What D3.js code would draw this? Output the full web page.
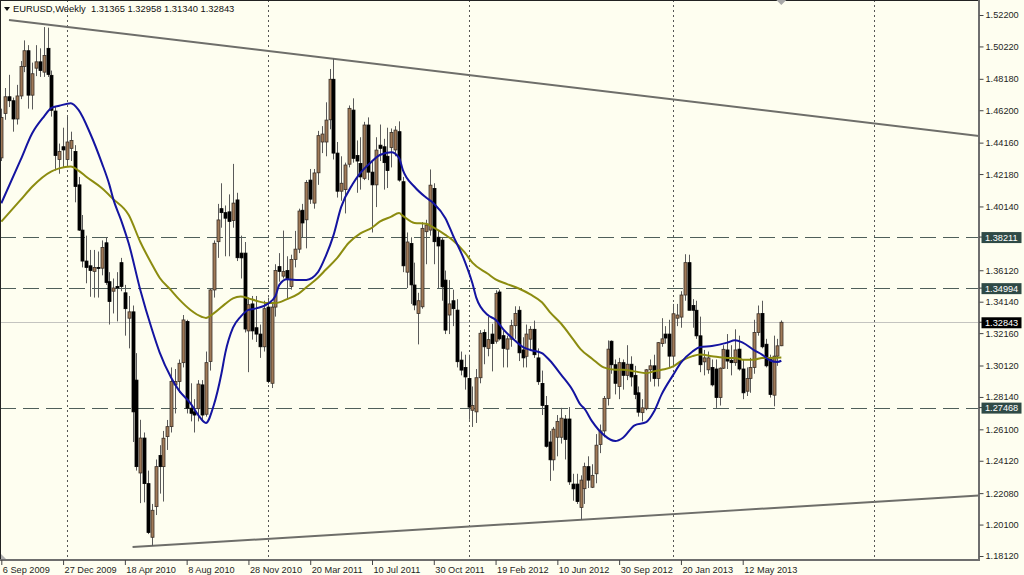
<!DOCTYPE html>
<html><head><meta charset="utf-8">
<script src="https://cdn.jsdelivr.net/npm/d3@7"></script>
<style>body{margin:0;background:#fefef0;} svg{display:block;font-family:"Liberation Sans",Arial,sans-serif;}</style>
</head><body>
<svg id="chart" width="1024" height="575"></svg>
<script>
// ---------------- DATA ----------------
const symbolTitle = "EURUSD,Weekly";
const lastQuote = ["1.31365", "1.32958", "1.31340", "1.32843"];
const firstWeek = "2009-09-06";

const opens = [
1.4320,1.4600,1.4705,1.4680,1.4565,1.4710,1.4895,1.4995,1.4715,1.4885,
1.4925,1.4860,1.5010,1.4840,1.4615,1.4310,1.4390,1.4310,1.4380,1.4360,
1.4150,1.3865,1.3670,1.3640,1.3605,1.3630,1.3625,1.3785,1.3540,1.3480,
1.3510,1.3660,1.3470,1.3310,1.3350,1.2920,1.2335,1.2555,1.2268,1.1930,
1.2123,1.2445,1.2375,1.2564,1.2627,1.2890,1.2911,1.3030,1.3289,1.2743,
1.2720,1.2740,1.2890,1.2705,1.3037,1.3488,1.3792,1.4000,1.3975,1.3980,
1.3925,1.4055,1.3720,1.3720,1.3230,1.3400,1.3250,1.3210,1.3130,1.3380,
1.2900,1.3380,1.3635,1.3575,1.3610,1.3510,1.3680,1.3745,1.3990,1.3930,
1.4180,1.4035,1.4226,1.4420,1.4420,1.4560,1.4815,1.4350,1.4110,1.4120,
1.4280,1.4621,1.4335,1.4285,1.4191,1.4527,1.4230,1.4150,1.4400,1.4390,
1.4330,1.4385,1.4370,1.4485,1.4170,1.3600,1.3780,1.3519,1.3340,1.3382,
1.3855,1.3865,1.4127,1.3820,1.3802,1.3550,1.3330,1.3420,1.3361,1.3046,
1.3000,1.2930,1.2730,1.2720,1.2935,1.3220,1.3120,1.3210,1.3165,1.3475,
1.3200,1.3115,1.3178,1.3263,1.3360,1.3110,1.3070,1.3178,1.3240,1.3060,
1.2899,1.2760,1.2530,1.2418,1.2560,1.2560,1.2675,1.2675,1.2265,1.2265,
1.2118,1.2236,1.2375,1.2245,1.2330,1.2514,1.2600,1.2805,1.3165,1.3017,
1.2880,1.3030,1.2950,1.3020,1.2950,1.2840,1.2715,1.2740,1.2985,1.3010,
1.2930,1.3150,1.3210,1.3210,1.3071,1.3310,1.3317,1.3456,1.3660,1.3390,
1.3360,1.3199,1.3035,1.2985,1.3000,1.2990,1.2810,1.2995,1.3110,1.3045,
1.3030,1.3115,1.2990,1.2850,1.2930,1.3000,1.3220,1.3340,1.3146,1.3049,
1.2825,1.3071,1.31365];

const highs = [
1.4630,1.4760,1.4843,1.4700,1.4780,1.4930,1.5060,1.5030,1.4920,1.5030,
1.5010,1.5144,1.5140,1.4870,1.4640,1.4410,1.4510,1.4580,1.4485,1.4400,
1.4200,1.3960,1.3830,1.3740,1.3740,1.3730,1.3800,1.3820,1.3600,1.3560,
1.3600,1.3690,1.3520,1.3450,1.3390,1.3090,1.2670,1.2590,1.2350,1.2140,
1.2420,1.2510,1.2600,1.2669,1.3000,1.2990,1.3050,1.3330,1.3300,1.2900,
1.2800,1.2920,1.2920,1.3100,1.3500,1.3800,1.4030,1.4160,1.4020,1.4090,
1.4282,1.4100,1.3830,1.3790,1.3440,1.3450,1.3450,1.3270,1.3420,1.3440,
1.3400,1.3650,1.3720,1.3862,1.3700,1.3710,1.3860,1.4000,1.4030,1.4180,
1.4250,1.4250,1.4490,1.4520,1.4670,1.4880,1.4945,1.4420,1.4330,1.4290,
1.4650,1.4695,1.4430,1.4450,1.4547,1.4575,1.4300,1.4450,1.4530,1.4440,
1.4510,1.4505,1.4520,1.4550,1.4200,1.3850,1.3820,1.3660,1.3470,1.3915,
1.3930,1.4247,1.4160,1.3865,1.3820,1.3610,1.3550,1.3490,1.3430,1.3100,
1.3080,1.3080,1.2880,1.2990,1.3235,1.3240,1.3320,1.3275,1.3486,1.3490,
1.3230,1.3200,1.3300,1.3385,1.3385,1.3190,1.3270,1.3260,1.3295,1.3120,
1.2980,1.2820,1.2600,1.2625,1.2700,1.2745,1.2700,1.2750,1.2330,1.2330,
1.2320,1.2400,1.2440,1.2390,1.2580,1.2640,1.2820,1.3170,1.3170,1.3050,
1.3060,1.3050,1.3140,1.3070,1.3010,1.2880,1.2800,1.2990,1.3050,1.3080,
1.3160,1.3310,1.3260,1.3300,1.3400,1.3400,1.3480,1.3713,1.3710,1.3430,
1.3420,1.3320,1.3110,1.3100,1.3050,1.3050,1.3000,1.3140,1.3210,1.3140,
1.3240,1.3200,1.3050,1.3000,1.3060,1.3300,1.3390,1.3420,1.3180,1.3080,
1.3200,1.3180,1.32958];

const lows = [
1.4300,1.4560,1.4640,1.4485,1.4530,1.4690,1.4860,1.4630,1.4625,1.4835,
1.4830,1.4830,1.4830,1.4580,1.4240,1.4220,1.4260,1.4265,1.4300,1.4040,
1.3860,1.3630,1.3530,1.3445,1.3440,1.3440,1.3580,1.3520,1.3270,1.3340,
1.3290,1.3480,1.3200,1.3120,1.2530,1.2350,1.2145,1.2150,1.1950,1.1875,
1.2070,1.2205,1.2155,1.2480,1.2590,1.2710,1.2840,1.3000,1.2710,1.2660,
1.2590,1.2660,1.2660,1.2690,1.2980,1.3440,1.3690,1.3880,1.3700,1.3700,
1.3880,1.3670,1.3560,1.3220,1.2970,1.3175,1.3160,1.3060,1.3100,1.2900,
1.2870,1.3320,1.3540,1.3560,1.3430,1.3490,1.3630,1.3720,1.3820,1.3750,
1.4030,1.4000,1.4150,1.4350,1.4330,1.4500,1.4310,1.4070,1.4050,1.3970,
1.4260,1.4290,1.4100,1.4120,1.4180,1.4180,1.3850,1.4010,1.4300,1.4120,
1.4130,1.4260,1.4330,1.4170,1.3600,1.3500,1.3400,1.3360,1.3145,1.3370,
1.3650,1.3830,1.3650,1.3500,1.3420,1.3210,1.3210,1.3260,1.3000,1.2950,
1.2860,1.2670,1.2625,1.2650,1.2900,1.3020,1.3070,1.2975,1.3150,1.3170,
1.3000,1.3000,1.3130,1.3180,1.3040,1.3000,1.3000,1.3110,1.3060,1.2890,
1.2700,1.2495,1.2285,1.2350,1.2440,1.2520,1.2420,1.2260,1.2160,1.2140,
1.2040,1.2140,1.2240,1.2240,1.2270,1.2460,1.2560,1.2760,1.2960,1.2830,
1.2800,1.2860,1.2920,1.2880,1.2800,1.2690,1.2660,1.2730,1.2910,1.2880,
1.2880,1.3130,1.3150,1.3000,1.3000,1.3260,1.3250,1.3420,1.3360,1.3250,
1.3180,1.2970,1.2950,1.2960,1.2880,1.2745,1.2760,1.2990,1.2990,1.2950,
1.3010,1.2980,1.2800,1.2820,1.2840,1.2960,1.3200,1.3120,1.3000,1.2810,
1.2755,1.3010,1.31340];

const closes = [
1.4575,1.4705,1.4680,1.4565,1.4710,1.4895,1.4995,1.4715,1.4850,1.4925,
1.4870,1.4965,1.4845,1.4620,1.4335,1.4360,1.4370,1.4420,1.4430,1.4140,
1.3865,1.3670,1.3630,1.3610,1.3630,1.3625,1.3755,1.3535,1.3415,1.3500,
1.3500,1.3510,1.3370,1.3350,1.2720,1.2375,1.2555,1.2268,1.1960,1.2100,
1.2375,1.2375,1.2554,1.2627,1.2911,1.2911,1.3026,1.3299,1.2743,1.2711,
1.2700,1.2895,1.2700,1.3030,1.3488,1.3782,1.3929,1.3975,1.3940,1.3920,
1.4035,1.3691,1.3690,1.3242,1.3395,1.3230,1.3210,1.3130,1.3370,1.2911,
1.3380,1.3610,1.3605,1.3605,1.3560,1.3680,1.3745,1.3985,1.3910,1.4165,
1.4060,1.4225,1.4460,1.4470,1.4558,1.4815,1.4350,1.4110,1.4160,1.4275,
1.4632,1.4317,1.4300,1.4200,1.4527,1.4230,1.4150,1.4369,1.4380,1.4290,
1.4240,1.4480,1.4495,1.4180,1.3640,1.3790,1.3520,1.3393,1.3420,1.3876,
1.3897,1.4148,1.3792,1.3765,1.3508,1.3235,1.3400,1.3370,1.3036,1.2983,
1.2940,1.2750,1.2760,1.2935,1.3215,1.3130,1.3175,1.3150,1.3465,1.3180,
1.3120,1.3180,1.3263,1.3340,1.3092,1.3060,1.3210,1.3240,1.3080,1.2910,
1.2760,1.2503,1.2418,1.2611,1.2660,1.2680,1.2546,1.2279,1.2235,1.2155,
1.2290,1.2375,1.2290,1.2320,1.2510,1.2600,1.2805,1.3115,1.3017,1.2900,
1.3030,1.2950,1.3020,1.2940,1.2830,1.2718,1.2745,1.2985,1.3010,1.2930,
1.3156,1.3180,1.3185,1.3071,1.3338,1.3330,1.3456,1.3660,1.3360,1.3360,
1.3199,1.3017,1.3060,1.3060,1.2890,1.2810,1.2995,1.3114,1.3040,1.3030,
1.3110,1.2990,1.2840,1.2930,1.3000,1.3220,1.3338,1.3130,1.3010,1.2830,
1.3071,1.3136,1.32843];

// Moving averages (bar index, price)
const blueIdx = [0,5,8,11,13,15,18,20,23,26,28,29,31,33,36,39,41,44,46,49,51,53,55,57,58,60,62,64,66,69,71,72,74,77,79,82,84,86,88,91,93,96,98,101,103,104,107,110,112,115,117,120,122,123,126,128,130,133,135,137,140,142,145,148,150,151,153,156,159,161,164,167,169,171,174,176,179,181,184,188,190,192,195,197,199,201,202];
const blueMA = [1.4034,1.4307,1.4475,1.4579,1.4635,1.4648,1.4664,1.4622,1.4475,1.4290,1.4150,1.4060,1.3929,1.3780,1.3488,1.3240,1.3095,1.2935,1.2855,1.2774,1.2700,1.2650,1.2760,1.2960,1.3090,1.3250,1.3320,1.3362,1.3372,1.3400,1.3450,1.3520,1.3555,1.3550,1.3551,1.3600,1.3700,1.3830,1.4010,1.4155,1.4225,1.4298,1.4338,1.4355,1.4320,1.4243,1.4138,1.4070,1.4033,1.3940,1.3830,1.3670,1.3530,1.3440,1.3330,1.3300,1.3240,1.3170,1.3130,1.3110,1.3090,1.3045,1.2953,1.2855,1.2765,1.2740,1.2660,1.2575,1.2536,1.2557,1.2635,1.2655,1.2720,1.2830,1.2953,1.3030,1.3100,1.3128,1.3135,1.3156,1.3171,1.3156,1.3108,1.3081,1.3045,1.3034,1.3042];
const oliveIdx = [0,5,8,13,15,18,20,22,26,29,33,36,39,41,44,46,49,52,53,55,58,60,62,64,66,69,71,74,77,79,82,84,87,90,93,96,98,101,103,104,107,110,112,115,117,120,122,126,128,131,134,137,140,142,145,148,150,153,156,159,161,164,167,169,171,174,176,179,181,184,188,190,192,195,197,199,202];
const oliveMA = [1.3918,1.4055,1.4138,1.4235,1.4254,1.4265,1.4240,1.4201,1.4130,1.4060,1.3960,1.3790,1.3650,1.3565,1.3485,1.3430,1.3362,1.3318,1.3312,1.3340,1.3400,1.3435,1.3446,1.3435,1.3420,1.3405,1.3405,1.3430,1.3465,1.3505,1.3565,1.3615,1.3690,1.3785,1.3844,1.3880,1.3918,1.3950,1.3972,1.3955,1.3910,1.3905,1.3880,1.3835,1.3800,1.3725,1.3660,1.3590,1.3555,1.3525,1.3497,1.3460,1.3410,1.3350,1.3275,1.3180,1.3115,1.3055,1.3000,1.2985,1.2985,1.2975,1.2964,1.2975,1.2985,1.3006,1.3039,1.3071,1.3081,1.3071,1.3060,1.3060,1.3049,1.3049,1.3060,1.3060,1.3062];

const dateLabels = ["6 Sep 2009","27 Dec 2009","18 Apr 2010","8 Aug 2010","28 Nov 2010","20 Mar 2011","10 Jul 2011","30 Oct 2011","19 Feb 2012","10 Jun 2012","30 Sep 2012","20 Jan 2013","12 May 2013"];
const yearGridWeeks = ["2010-01-03","2011-01-02","2012-01-01","2013-01-06","2014-01-05"];
const priceTicks = [1.52200,1.50220,1.48180,1.46200,1.44160,1.42180,1.40140,1.36120,1.34140,1.32160,1.30120,1.28140,1.26100,1.24120,1.22080,1.20100,1.18120];
const levelLines = [1.38211, 1.34994, 1.27468];
const bidPrice = 1.32843;
const upperTrend = [["2009-09-20", 1.5188], ["2011-05-01", 1.4944]];
const lowerTrend = [["2010-05-02", 1.1868], ["2012-07-22", 1.2040]];

// ---------------- LAYOUT ----------------
const W = 1024, H = 575;
const plotR = 979, plotB = 560;
const barStep = 3.8615;
const svg = d3.select("#chart");
const parseDay = d3.utcParse("%Y-%m-%d");
const parseLabel = d3.utcParse("%d %b %Y");
const t0 = parseDay(firstWeek);
const n = closes.length;
const dates = closes.map((_, i) => d3.utcWeek.offset(t0, i));

const x = d3.scaleUtc().domain([dates[0], dates[n - 1]]).range([1.3, 1.3 + (n - 1) * barStep]);
const y = d3.scaleLinear().domain([1.18120, 1.52200]).range([556, 15]);

svg.append("rect").attr("width", W).attr("height", H).attr("fill", "#fefef0");

const defs = svg.append("defs");
defs.append("clipPath").attr("id", "plotClip").append("rect")
  .attr("x", 0).attr("y", 0).attr("width", plotR).attr("height", plotB);
const plot = svg.append("g").attr("clip-path", "url(#plotClip)");

// year grid (dotted)
plot.selectAll("line.vgrid").data(yearGridWeeks.map(parseDay)).join("line")
  .attr("class", "vgrid")
  .attr("x1", d => Math.round(x(d)) + 0.5).attr("x2", d => Math.round(x(d)) + 0.5)
  .attr("y1", 0).attr("y2", plotB)
  .attr("stroke", "#555").attr("stroke-width", 1).attr("stroke-dasharray", "2,3");

// bid line
plot.append("line").attr("x1", 0).attr("x2", plotR)
  .attr("y1", Math.round(y(bidPrice)) + 0.5).attr("y2", Math.round(y(bidPrice)) + 0.5)
  .attr("stroke", "#c4c4c0").attr("stroke-width", 1);

// level lines (dashed)
plot.selectAll("line.level").data(levelLines).join("line")
  .attr("class", "level")
  .attr("x1", 0).attr("x2", plotR)
  .attr("y1", d => Math.round(y(d)) + 0.5).attr("y2", d => Math.round(y(d)) + 0.5)
  .attr("stroke", "#4f5f5a").attr("stroke-width", 1.2).attr("stroke-dasharray", "16,7");

// trend lines (ray to the right edge)
function ray(tr) {
  const x1 = x(parseDay(tr[0][0])), y1 = y(tr[0][1]);
  const x2 = x(parseDay(tr[1][0])), y2 = y(tr[1][1]);
  const k = (y2 - y1) / (x2 - x1);
  return [x1, y1, plotR + 5, y1 + k * (plotR + 5 - x1)];
}
[upperTrend, lowerTrend].forEach(tr => {
  const r = ray(tr);
  plot.append("line").attr("x1", r[0]).attr("y1", r[1]).attr("x2", r[2]).attr("y2", r[3])
    .attr("stroke", "#6e6e6a").attr("stroke-width", 2);
});

// candles
const bars = d3.range(n);
const cg = plot.append("g");
cg.selectAll("line.wick").data(bars).join("line")
  .attr("class", "wick")
  .attr("x1", i => Math.round(x(dates[i])) + 0.5).attr("x2", i => Math.round(x(dates[i])) + 0.5)
  .attr("y1", i => y(highs[i])).attr("y2", i => y(lows[i]))
  .attr("stroke", "#5a5a5a").attr("stroke-width", 1);
cg.selectAll("rect.body").data(bars).join("rect")
  .attr("class", "body")
  .attr("x", i => Math.round(x(dates[i])) - 1)
  .attr("y", i => y(Math.max(opens[i], closes[i])))
  .attr("width", 3)
  .attr("height", i => Math.max(1, Math.abs(y(opens[i]) - y(closes[i]))))
  .attr("fill", i => closes[i] >= opens[i] ? "#a07a58" : "#000")
  .attr("stroke", i => closes[i] >= opens[i] ? "#3a3028" : "#000")
  .attr("stroke-width", 0.8);

// moving averages
const maLine = d3.line().x(d => x(dates[d[0]])).y(d => y(d[1])).curve(d3.curveMonotoneX);
plot.append("path").datum(oliveIdx.map((d, i) => [d, oliveMA[i]]))
  .attr("d", maLine).attr("fill", "none").attr("stroke", "#8c8c10").attr("stroke-width", 2);
plot.append("path").datum(blueIdx.map((d, i) => [d, blueMA[i]]))
  .attr("d", maLine).attr("fill", "none").attr("stroke", "#1414a0").attr("stroke-width", 2);

// frame
svg.append("line").attr("x1", 0.5).attr("x2", 0.5).attr("y1", 0).attr("y2", plotB).attr("stroke", "#222");
svg.append("line").attr("x1", 0).attr("x2", plotR).attr("y1", 0.5).attr("y2", 0.5).attr("stroke", "#222");
svg.append("line").attr("x1", plotR).attr("x2", plotR).attr("y1", 0).attr("y2", plotB + 1).attr("stroke", "#6e6e6e").attr("stroke-width", 2);
svg.append("line").attr("x1", 0).attr("x2", plotR + 1).attr("y1", plotB).attr("y2", plotB).attr("stroke", "#6e6e6e").attr("stroke-width", 2);

// price axis
const yAxis = d3.axisRight(y).tickValues(priceTicks).tickSize(4).tickPadding(2).tickFormat(d3.format(".5f"));
const ya = svg.append("g").attr("transform", `translate(${plotR + 0.5},0)`).call(yAxis);
ya.select(".domain").remove();
ya.selectAll("line").attr("stroke", "#444");
ya.selectAll("text").attr("font-size", "9.2px").attr("fill", "#1e1e1e").attr("font-family", "Liberation Sans, Arial, sans-serif");

// highlighted price labels
function priceBox(v, fill) {
  const yy = y(v);
  svg.append("line").attr("x1", plotR).attr("x2", plotR + 3).attr("y1", yy).attr("y2", yy).attr("stroke", "#444");
  svg.append("rect").attr("x", plotR + 2.5).attr("y", yy - 5).attr("width", 40).attr("height", 11).attr("fill", fill);
  svg.append("text").attr("x", plotR + 6).attr("y", yy + 3.5).attr("fill", "#fff")
    .attr("font-size", "9.2px").text(d3.format(".5f")(v));
}
levelLines.forEach(v => priceBox(v, "#2f4a46"));
priceBox(bidPrice, "#000");

// date axis
const labelDates = dateLabels.map(parseLabel);
const xAxis = d3.axisBottom(x).tickValues(labelDates).tickSize(5).tickPadding(2)
  .tickFormat((d, i) => dateLabels[i]);
const xa = svg.append("g").attr("transform", `translate(0,${plotB})`).call(xAxis);
xa.select(".domain").remove();
xa.selectAll("line").attr("stroke", "#444");
xa.selectAll("text").attr("text-anchor", "start").attr("dx", "1").attr("dy", "0.6em")
  .attr("font-size", "9.2px").attr("fill", "#1e1e1e").attr("font-family", "Liberation Sans, Arial, sans-serif");

// header
svg.append("path").attr("d", "M4,7 L10,7 L7,11 Z").attr("fill", "#111");
svg.append("text").attr("x", 13).attr("y", 12).attr("font-size", "9.4px").attr("fill", "#111")
  .attr("xml:space", "preserve")
  .text(symbolTitle + "  " + lastQuote.join(" "));

// chart shift marker
const shiftX = x(dates[n - 1]);
svg.append("path").attr("d", `M${shiftX - 5},0 L${shiftX + 5},0 L${shiftX},5 Z`).attr("fill", "#a8a8a8");
svg.append("path").attr("d", `M1,${plotB - 6} L1,${plotB - 1} L6,${plotB - 1} Z`).attr("fill", "#b0b0b0");
</script>
</body></html>
